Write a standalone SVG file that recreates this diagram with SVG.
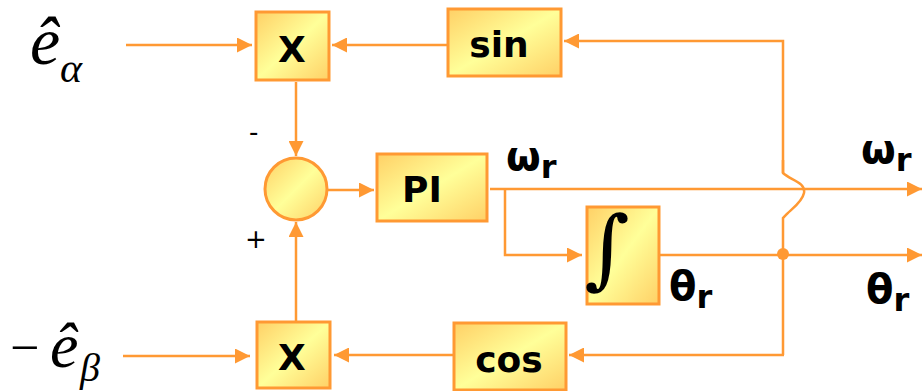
<svg xmlns="http://www.w3.org/2000/svg" width="924" height="391" viewBox="0 0 924 391">
<defs>
<linearGradient id="g" x1="0" y1="0" x2="1" y2="1">
<stop offset="0" stop-color="#FFD066"/>
<stop offset="0.5" stop-color="#FFFF99"/>
<stop offset="1" stop-color="#FFD066"/>
</linearGradient>
<marker id="ah" viewBox="0 0 10 10" refX="10" refY="5" markerWidth="6" markerHeight="6" markerUnits="strokeWidth" orient="auto">
<path d="M0,0 L10,5 L0,10 z" fill="#FF9933"/>
</marker>
<style>
.box{fill:url(#g);stroke:#FF9933;stroke-width:3}
.w{stroke:#FF9933;stroke-width:2.5;fill:none}
.a{marker-end:url(#ah)}
.bt{font-family:"DejaVu Sans",Verdana,sans-serif;font-weight:bold;font-size:36px;fill:#000;text-anchor:middle}
.lb{font-family:"DejaVu Sans",Verdana,sans-serif;font-weight:bold;font-size:40px;fill:#000}
.sub{font-size:32px}
.m{font-family:"Liberation Serif","Times New Roman",serif;font-style:italic;fill:#000}
.s{font-family:"DejaVu Sans",sans-serif;font-size:26px;fill:#000}
</style>
</defs>
<g id="connectors">
<line class="w a" x1="126" y1="45" x2="252" y2="45"/>
<line class="w a" x1="447" y1="45" x2="332" y2="45"/>
<polyline class="w a" points="783,173 783,41 564,41"/>
<line class="w a" x1="296" y1="82" x2="296" y2="156"/>
<line class="w a" x1="327" y1="190" x2="374" y2="190"/>
<line class="w a" x1="490" y1="189" x2="922" y2="189"/>
<polyline class="w a" points="505,189 505,255 582,255"/>
<line class="w a" x1="660" y1="255" x2="922" y2="255"/>
<path class="w" d="M783,160 L783,173 C790,180 806,182 804,193 C802,203 790,210 785,216 L783,218 L783,355"/>
<line class="w a" x1="784" y1="355" x2="569" y2="355"/>
<line class="w a" x1="453" y1="355" x2="334" y2="355"/>
<line class="w a" x1="123" y1="356" x2="250" y2="356"/>
<line class="w a" x1="296" y1="322" x2="296" y2="222"/>
<circle cx="783" cy="254" r="6" fill="#FF9933"/>
</g>
<g id="x1"><rect class="box" x="256" y="12" width="73" height="68"/><text class="bt" x="292" y="62">X</text></g>
<g id="sin"><rect class="box" x="448" y="9" width="113" height="67"/><text class="bt" x="499" y="57">sin</text></g>
<g id="sum"><circle class="box" cx="296" cy="189" r="31"/></g>
<g id="pi"><rect class="box" x="377" y="154" width="110" height="67"/><text class="bt" x="422" y="202">PI</text></g>
<g id="int"><rect class="box" x="587" y="207" width="72" height="97"/><text x="607" y="278" font-family="'DejaVu Serif',serif" font-size="87" fill="#000" text-anchor="middle">∫</text></g>
<g id="cos"><rect class="box" x="454" y="323" width="112" height="67"/><text class="bt" x="509" y="372">cos</text></g>
<g id="x2"><rect class="box" x="257" y="322" width="73" height="66"/><text class="bt" x="292" y="370">X</text></g>
<g id="labels">
<text class="s" x="249" y="141">-</text>
<text class="s" x="245" y="248">+</text>
<text class="lb" x="506" y="170">ω<tspan class="sub" dy="8">r</tspan></text>
<text class="lb" x="861" y="163">ω<tspan class="sub" dy="8">r</tspan></text>
<text class="lb" x="669" y="300">θ<tspan class="sub" dy="8">r</tspan></text>
<text class="lb" x="866" y="303">θ<tspan class="sub" dy="8">r</tspan></text>
<text class="m" x="30" y="64" font-size="68">ê</text>
<text class="m" x="60" y="82" font-size="42">α</text>
<text x="10" y="365" font-family="'Liberation Serif',serif" font-size="52" fill="#000">−</text>
<text class="m" x="50" y="367" font-size="64">ê</text>
<text class="m" x="80" y="381" font-size="40">β</text>
</g>
</svg>
